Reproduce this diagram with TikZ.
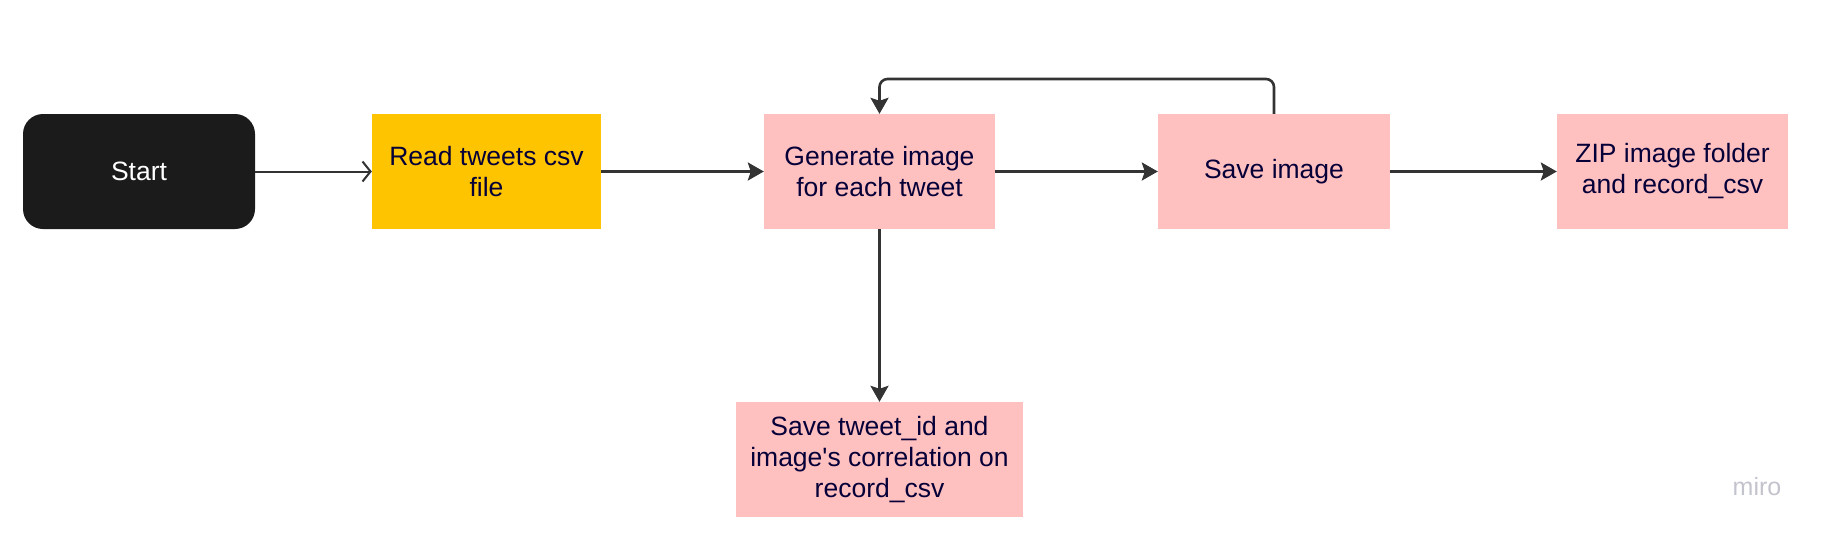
\documentclass[tikz,border=0pt]{standalone}
\usepackage{fontspec}
\setmainfont{Liberation Sans}
\usetikzlibrary{arrows.meta}
\definecolor{pinkbox}{HTML}{FFC0C0}
\definecolor{yellowbox}{HTML}{FFC400}
\definecolor{darkbox}{HTML}{1B1B1B}
\definecolor{txt}{HTML}{050038}
\definecolor{conn}{HTML}{333333}
\definecolor{mirogray}{HTML}{C3C3CE}
\tikzset{
  box/.style={rectangle, minimum height=115pt, align=center, text=txt,
    font=\fontsize{26.5}{31}\selectfont, inner sep=4pt},
  pinkstep/.style={box, fill=pinkbox},
  conn/.style={draw=conn, line width=2.6pt, -{Stealth[length=16pt,width=18pt,inset=3pt]}},
  openconn/.style={draw=conn, line width=2pt, -{Straight Barb[length=8pt,width=20pt,line width=2pt]}},
}
\begin{document}
\begin{tikzpicture}[x=1pt,y=-1pt]
\useasboundingbox (0,0) rectangle (1825,547);
\node[box, fill=darkbox, text=white, minimum width=232pt, rounded corners=20pt] (start) at (139,171.5) {Start};
\node[box, fill=yellowbox, minimum width=229pt] (read) at (486.5,171.5) {Read tweets csv\\file};
\node[pinkstep, minimum width=231pt] (gen) at (879.5,171.5) {Generate image\\for each tweet};
\node[pinkstep, minimum width=232pt] (save) at (1274,171.5) {Save image};
\node[pinkstep, minimum width=231pt] (zip) at (1672.5,171.5) {ZIP image folder\\and record\_csv};
\node[pinkstep, minimum width=287pt] (rec) at (879.5,459.5) {Save tweet\_id and\\image\textquotesingle s correlation on\\record\_csv};
\coordinate (loopR) at (1274,79);
\coordinate (loopL) at (879.5,79);
\draw[openconn] (start.east) -- (read.west);
\draw[conn] (read.east) -- (gen.west);
\draw[conn] (gen.east) -- (save.west);
\draw[conn] (save.east) -- (zip.west);
\draw[conn] (gen.south) -- (rec.north);
\draw[conn, rounded corners=8pt] (save.north) -- (loopR) -- (loopL) -- (gen.north);
\node[text=mirogray, font=\fontsize{25}{27}\selectfont, inner sep=0pt] (miro) at (1757,487) {miro};
\end{tikzpicture}
\end{document}
